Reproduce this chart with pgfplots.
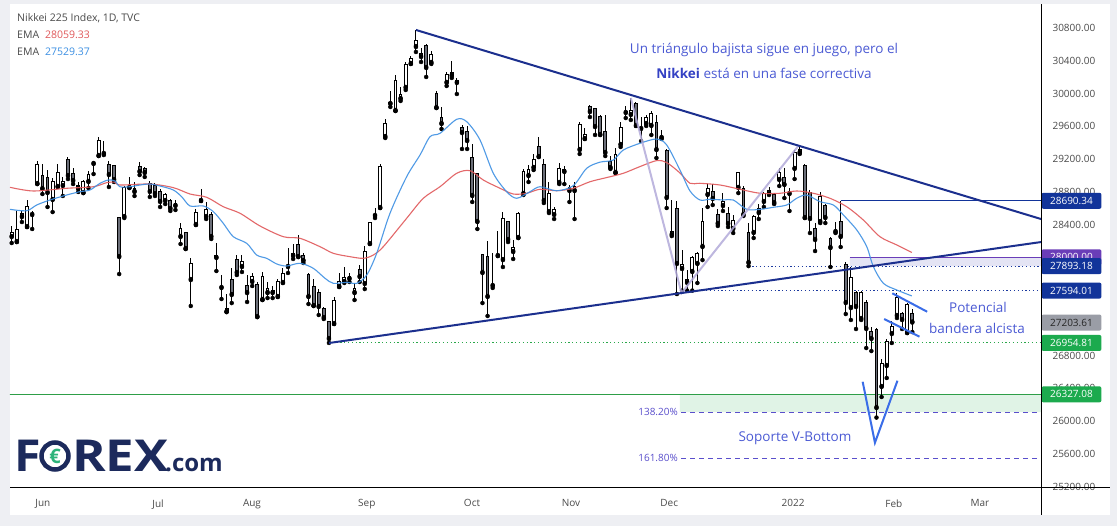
\documentclass[border=0pt]{standalone}
\usepackage{pgfplots}
\pgfplotsset{compat=1.18}
\usepackage{pgfplotstable}
\usetikzlibrary{backgrounds}
\usepackage{fontspec}
\setmainfont{Open Sans}

\definecolor{bordergray}{HTML}{EEEFF3}
\definecolor{navyline}{HTML}{1B2F8E}
\definecolor{emared}{HTML}{E0585A}
\definecolor{emablue}{HTML}{3D90E3}
\definecolor{candlegray}{HTML}{6B6E78}
\definecolor{annot}{HTML}{4B5AD4}
\definecolor{annotdark}{HTML}{3441C4}
\definecolor{flagblue}{HTML}{3A6DE8}
\definecolor{pillnavy}{HTML}{12349A}
\definecolor{pillpurple}{HTML}{6A3DB8}
\definecolor{pillgreen}{HTML}{1CAA4E}
\definecolor{linegreen}{HTML}{2E9E48}
\definecolor{pillgray}{HTML}{9A9DA6}
\definecolor{lav}{HTML}{B3ABDA}
\definecolor{bandpurple}{HTML}{E4E4F4}
\definecolor{bandgreen}{HTML}{E0F3E6}
\definecolor{fibblue}{HTML}{5A4FCC}
\definecolor{axisgray}{HTML}{4A4A4A}
\definecolor{dotnavy}{HTML}{1C3AA0}
\definecolor{dotgreen}{HTML}{2AA84A}
\definecolor{forexnavy}{HTML}{1C2A5C}
\definecolor{forexgreen}{HTML}{2DB37A}

% up (bullish) candles: index open high low close
\pgfplotstableread{
i o h l c
0 28248 28383 28175 28309
1 28187 28566 28187 28346
2 28492 28566 28431 28541
3 28370 28700 28370 28627
5 28895 29176 28895 29140
8 28700 28969 28553 28932
9 28859 29140 28859 29042
10 28871 28981 28749 28932
14 28785 28944 28785 28932
15 28920 29054 28847 29017
17 29237 29469 29237 29433
22 28492 28871 28480 28859
24 28798 28920 28749 28847
30 28688 28785 28651 28773
33 28248 28419 28163 28358
35 27723 27992 27406 27931
36 28395 28590 28395 28553
38 28492 28676 28468 28590
42 27332 27552 27332 27381
45 27882 28028 27821 27955
47 27699 27809 27650 27772
49 27479 27821 27479 27772
50 27564 27699 27503 27626
51 27564 27650 27503 27601
52 27516 27735 27516 27711
53 27687 27870 27687 27809
54 27882 28114 27809 27894
55 28016 28163 27980 28053
63 27186 27516 27186 27479
64 27638 27809 27638 27711
65 27699 27882 27687 27760
66 27735 27809 27699 27772
67 27564 27687 27479 27626
69 27674 28138 27613 28077
70 28163 28431 28163 28431
71 28505 28602 28480 28529
72 28602 29140 28602 29115
73 29469 29689 29457 29640
74 29872 30031 29836 29897
75 29787 30226 29787 30165
76 29933 30080 29909 29994
77 30068 30385 30043 30361
78 30361 30458 30361 30434
79 30568 30776 30507 30654
80 30446 30556 30385 30495
82 30373 30519 30361 30483
85 30129 30263 30092 30238
87 30129 30190 29994 30165
95 28016 28321 28016 28041
96 27967 28553 27882 28480
98 28065 28212 27980 28126
99 28236 28553 28236 28541
100 28773 29079 28761 29054
101 28993 29127 28920 29079
102 29091 29262 29066 29201
105 28553 28920 28541 28785
106 28517 28615 28468 28590
107 28908 29152 28895 29091
110 28810 28920 28468 28871
111 29310 29652 29262 29628
112 29445 29579 29445 29506
118 29030 29335 29030 29262
119 29372 29652 29347 29591
121 29738 29945 29677 29799
124 29628 29738 29604 29713
125 29604 29787 29494 29762
129 28273 28700 28260 28321
131 27858 28089 27594 27919
132 27687 27845 27594 27735
133 27821 28016 27594 28004
134 27919 28065 27687 28053
135 28126 28602 27967 28444
136 28761 28895 28615 28847
139 28627 28785 28566 28688
141 28346 28517 28297 28456
142 28847 29042 28785 29042
145 28297 28517 28236 28505
146 28541 28651 28468 28602
147 28676 28798 28615 28785
148 28773 28859 28761 28822
150 28944 29091 28871 29042
153 29079 29310 28956 29286
154 29274 29359 29262 29323
158 28431 28798 28419 28749
161 28309 28431 28297 28321
164 27381 27882 27235 27760
166 27247 27589 27235 27577
170 26417 26759 26295 26710
171 26673 27003 26527 26978
172 27064 27223 26954 27162
173 27284 27564 27259 27516
175 27076 27442 27076 27430
}\up

% down (bearish) candles: index open high low close
\pgfplotstableread{
i o h l c
4 28529 28566 28346 28517
6 29005 29140 28773 28834
7 28981 29066 28615 28785
11 29201 29225 28956 28993
12 29030 29091 28895 28932
13 28883 28920 28798 28834
16 29152 29176 29017 29140
18 29274 29420 29249 29262
19 29140 29176 28859 29005
20 29127 29127 28920 28944
21 28492 28492 27796 28004
23 28859 28981 28847 28847
25 29115 29164 29005 29042
26 29091 29103 28981 29030
27 28908 28932 28737 28798
28 28883 28908 28749 28773
29 28810 28834 28615 28676
31 28700 28712 28566 28590
32 28663 28700 28578 28627
34 28309 28309 28102 28102
37 28700 28834 28688 28688
39 28529 28553 28224 28248
40 28028 28175 27833 27992
41 27638 27784 27491 27626
43 27735 27870 27442 27540
44 27980 28028 27784 27809
46 27662 27784 27455 27564
48 27674 27699 27271 27271
56 28163 28273 28004 28004
57 28028 28053 27931 27955
58 27796 27809 27430 27516
59 27650 27735 27406 27406
60 27577 27613 27296 27394
61 27381 27394 27247 27259
62 27223 27223 26955 27003
68 27858 27906 27699 27760
81 30593 30605 30202 30312
83 30006 30031 29823 29823
84 29713 29836 29567 29628
86 30263 30397 30190 30214
88 29591 29616 29323 29518
89 29542 29604 29323 29420
90 29225 29384 28676 28749
91 29030 29030 28346 28431
92 28041 28041 27442 27809
93 28016 28199 27284 27516
94 27662 28053 27626 27650
97 28444 28444 28187 28212
103 29359 29469 29225 29225
104 29140 29201 28663 28688
108 29079 29115 28895 29042
109 28859 28883 28676 28810
113 29848 29860 29713 29774
114 29823 29823 29494 29591
115 29726 29738 29494 29494
116 29542 29738 29237 29274
117 29176 29237 29079 29091
120 29787 29848 29701 29762
122 29884 29897 29604 29604
123 29579 29713 29420 29567
126 29652 29738 29213 29310
127 29481 29555 29445 29457
128 29310 29323 28602 28724
130 28602 28688 27552 27919
137 28810 28895 28639 28712
138 28529 28590 28383 28407
140 28541 28615 28370 28407
143 28847 28871 28505 28517
144 28309 28419 27893 27931
149 28773 28785 28651 28663
151 28981 29091 28724 28883
152 28785 28847 28566 28773
155 29127 29140 28480 28480
156 28798 28822 28297 28468
157 28358 28419 28077 28212
159 28639 28651 28419 28480
160 28236 28248 27882 28114
162 28444 28690 28126 28248
163 27919 27943 27308 27442
165 27577 27589 27125 27394
167 27455 27479 26893 27125
168 27100 27149 26856 27003
169 27125 27137 26044 26160
174 27320 27332 27125 27235
176 27320 27369 27088 27204
}\dn

\begin{document}
\begin{tikzpicture}[x=1pt,y=1pt]
\begin{axis}[
  width=1031pt, height=484pt, scale only axis,
  xmin=-0.332, xmax=201.15, ymin=25184, ymax=31093,
  axis line style={draw=none},
  major tick length=0pt,
  clip mode=individual,
  scaled y ticks=false, scaled x ticks=false,
  xtick={6.1,28.6,46.96,69.4,89.96,109.3,128.5,152.7,172.4,189.2},
  xticklabels={Jun,Jul,Aug,Sep,Oct,Nov,Dec,2022,Feb,Mar},
  ytick={25200,25600,26000,26400,26800,27200,27600,28000,28400,28800,29200,29600,30000,30400,30800},
  yticklabel pos=right,
  tick label style={font=\fontsize{10}{12}\selectfont, text=axisgray},
  x tick label style={yshift=-8pt},
  y tick label style={xshift=8pt, anchor=west},
  /pgf/number format/fixed,
  /pgf/number format/fixed zerofill,
  /pgf/number format/precision=2,
  /pgf/number format/1000 sep={},
  /pgf/number format/assume math mode=true,
]
\coordinate (O) at (rel axis cs:0,0);

% ---- zones and levels ----
\addplot[fill=bandpurple, draw=none] coordinates {(163.8,27893.18) (205,27893.18) (205,28000) (163.8,28000) (163.8,27893.18)};
\addplot[fill=bandgreen, draw=none] coordinates {(130.6,26111) (205,26111) (205,26327.08) (130.6,26327.08) (130.6,26111)};
\addplot[pillnavy, line width=1.2pt] coordinates {(162,28690.34) (205,28690.34)};
\addplot[pillpurple, line width=1.2pt] coordinates {(163.8,28000) (205,28000)};
\addplot[dotnavy, line width=1pt, dash pattern=on 1.2pt off 2.6pt] coordinates {(144,27893.18) (205,27893.18)};
\addplot[dotnavy, line width=1pt, dash pattern=on 1.2pt off 2.6pt] coordinates {(132,27594.01) (205,27594.01)};
\addplot[dotgreen, line width=1pt, dash pattern=on 1.2pt off 2.6pt] coordinates {(62,26954.81) (205,26954.81)};
\addplot[linegreen, line width=1pt] coordinates {(-1,26327.08) (205,26327.08)};
\addplot[fibblue, line width=1pt, dash pattern=on 5pt off 4pt] coordinates {(130.8,26111) (205,26111)};
\addplot[fibblue, line width=1pt, dash pattern=on 5pt off 4pt] coordinates {(130.8,25550) (205,25550)};

% ---- candles: wicks ----
\addplot[only marks, mark=none, error bars/.cd, y dir=plus, y explicit,
  error bar style={draw=black, line width=1pt}, error mark=none]
  table[x=i, y=l, y error plus expr=\thisrow{h}-\thisrow{l}] {\up};
\addplot[only marks, mark=none, error bars/.cd, y dir=plus, y explicit,
  error bar style={draw=black, line width=1pt}, error mark=none]
  table[x=i, y=l, y error plus expr=\thisrow{h}-\thisrow{l}] {\dn};
% ---- candles: bodies ----
\addplot[only marks, mark=none, error bars/.cd, y dir=plus, y explicit,
  error bar style={draw=black, line width=3.8pt}, error mark=none]
  table[x=i, y=o, y error plus expr={max(\thisrow{c}-\thisrow{o},12)}] {\up};
\addplot[only marks, mark=none, error bars/.cd, y dir=plus, y explicit,
  error bar style={draw=white, line width=1.8pt}, error mark=none]
  table[x=i, y expr=\thisrow{o}+12, y error plus expr={max(\thisrow{c}-\thisrow{o}-24,0)}] {\up};
\addplot[only marks, mark=none, error bars/.cd, y dir=plus, y explicit,
  error bar style={draw=black, line width=3.8pt}, error mark=none]
  table[x=i, y=c, y error plus expr={max(\thisrow{o}-\thisrow{c},12)}] {\dn};
\addplot[only marks, mark=none, error bars/.cd, y dir=plus, y explicit,
  error bar style={draw=candlegray, line width=1.8pt}, error mark=none]
  table[x=i, y expr=\thisrow{c}+12, y error plus expr={max(\thisrow{o}-\thisrow{c}-24,0)}] {\dn};

% ---- EMAs ----
\addplot[emared, line width=1.1pt, opacity=0.9, smooth] coordinates {
(-0.33,28855) (4.22,28810) (10.75,28843) (15.95,28862) (18.57,28912) (20.19,28917)
(21.16,28883) (27.03,28895) (31.58,28851) (34.85,28773) (38.11,28733) (41.35,28618)
(44.62,28538) (48.52,28383) (53.08,28252) (56.34,28232) (60.25,28130) (62.85,28049)
(66.11,28008) (68.71,27988) (70.67,28028) (72.62,28130) (77.19,28477) (80.44,28721)
(83.70,28862) (86.96,29026) (89.56,29058) (92.16,28944) (95.43,28843) (98.03,28773)
(100.64,28782) (103.24,28831) (106.51,28813) (109.75,28843) (113.01,28923) (116.28,28974)
(119.52,29026) (122.78,29108) (126.05,29181) (128.00,29157) (130.60,29030) (132.56,28904)
(134.51,28904) (138.42,28883) (142.33,28831) (146.24,28782) (150.15,28782) (153.41,28810)
(156.66,28782) (159.91,28721) (163.18,28618) (166.42,28456) (169.68,28252) (172.97,28151)
(175.90,28059)};
\addplot[emablue, line width=1.1pt, opacity=0.9, smooth] coordinates {
(-0.33,28586) (2.93,28569) (4.89,28639) (7.48,28700) (10.75,28761) (13.35,28802)
(15.30,28822) (17.26,28904) (18.88,28944) (20.19,28932) (21.16,28862) (23.12,28862)
(25.07,28883) (27.03,28895) (28.98,28871) (31.58,28822) (33.22,28740) (34.85,28627)
(37.44,28627) (39.40,28558) (41.35,28415) (43.31,28252) (45.93,28171) (47.88,28028)
(49.83,27988) (51.79,27919) (53.74,27894) (56.34,27927) (58.94,27866) (61.23,27744)
(62.85,27683) (65.47,27695) (67.42,27683) (69.38,27784) (71.33,28049) (73.93,28538)
(77.19,28985) (79.79,29249) (81.75,29473) (83.70,29514) (86.96,29685) (88.92,29656)
(91.52,29433) (94.12,29026) (96.74,28801) (98.69,28721) (101.29,28801) (103.24,28862)
(106.51,28813) (109.75,28875) (112.37,29087) (114.97,29162) (117.57,29188) (119.52,29310)
(122.78,29392) (126.05,29445) (128.00,29372) (130.60,29066) (132.56,28810) (134.51,28700)
(136.47,28709) (139.07,28700) (141.02,28700) (143.64,28586) (146.24,28586) (148.84,28611)
(151.46,28639) (153.41,28721) (155.37,28761) (157.97,28679) (160.57,28639) (162.53,28517)
(165.15,28334) (167.10,28130) (168.40,27885) (170.35,27683) (172.97,27601) (175.90,27529)};

% ---- drawings ----
\addplot[lav, line width=2pt, opacity=0.85] coordinates {(121,29945) (130.9,27564) (153.6,29350)};
\addplot[navyline, line width=2pt] coordinates {(79,30776) (203,28433)};
\addplot[navyline, line width=2pt] coordinates {(62,26954) (203,28203)};
\addplot[flagblue, line width=2pt] coordinates {(172.1,27561) (178.9,27336)};
\addplot[flagblue, line width=2pt] coordinates {(170.5,27247) (177.4,27031)};
\addplot[flagblue, line width=2pt] coordinates {(166.3,26481) (168.7,25737) (173.1,26494)};

% ---- price pills ----
\tikzset{pill/.style={anchor=west, rounded corners=2pt, minimum width=60pt, minimum height=16pt,
  inner sep=0pt, text=white, font=\fontsize{10}{12}\selectfont}}
\node[pill, fill=pillnavy] at (axis cs:201.2,28690.34) {28690.34};
\node[pill, fill=pillpurple] at (axis cs:201.2,28000) {28000.00};
\node[pill, fill=pillnavy] at (axis cs:201.2,27893.18) {27893.18};
\node[pill, fill=pillnavy] at (axis cs:201.2,27594.01) {27594.01};
\node[pill, fill=pillgray, text=black!85] at (axis cs:201.2,27203.61) {27203.61};
\node[pill, fill=pillgreen] at (axis cs:201.2,26954.81) {26954.81};
\node[pill, fill=pillgreen] at (axis cs:201.2,26327.08) {26327.08};
\end{axis}

\begin{scope}[shift={(O)}, xshift=-10pt, yshift=-38pt]
\begin{pgfonlayer}{background}
\fill[bordergray] (0,0) rectangle (1117,526);
\fill[white] (10,11) rectangle (1110,522);
\end{pgfonlayer}

% frame lines of the price and time scales
\draw[black, line width=1pt] (1041,11) -- (1041,522);
\draw[black, line width=1pt] (10,38) -- (1110,38);

% legend
\node[anchor=west, text=axisgray, font=\fontsize{10.5}{12}\selectfont, inner sep=0] at (17,508) {Nikkei 225 Index, 1D, TVC};
\node[anchor=west, text=axisgray, font=\fontsize{10.5}{12}\selectfont, inner sep=0] at (17,491) {EMA\hspace{6pt}\textcolor{emared}{28059.33}};
\node[anchor=west, text=axisgray, font=\fontsize{10.5}{12}\selectfont, inner sep=0] at (17,474) {EMA\hspace{6pt}\textcolor{emablue}{27529.37}};

% annotations
\node[text=annot, font=\fontsize{13.5}{16}\selectfont, inner sep=0] at (764,476) {Un triángulo bajista sigue en juego, pero el};
\node[text=annot, font=\fontsize{13.5}{16}\selectfont, inner sep=0] at (764,453) {\textcolor{annotdark}{\bfseries Nikkei} está en una fase correctiva};
\node[text=annot, font=\fontsize{13.5}{16}\selectfont, inner sep=0] at (978,219) {Potencial};
\node[text=annot, font=\fontsize{13.5}{16}\selectfont, inner sep=0] at (977,198) {bandera alcista};
\node[text=annot, font=\fontsize{13.5}{16}\selectfont, inner sep=0] at (795,88) {Soporte V-Bottom};
\node[anchor=east, text=fibblue, font=\fontsize{10}{12}\selectfont, inner sep=0] at (678,114) {138.20\%};
\node[anchor=east, text=fibblue, font=\fontsize{10}{12}\selectfont, inner sep=0] at (678,68) {161.80\%};

% FOREX.com logo
\node[anchor=base west, text=forexnavy, font=\fontsize{44}{44}\selectfont\bfseries, inner sep=0, xscale=1.1] at (14,54) {F};
\draw[forexnavy, line width=4.5pt] (55,70) circle (13.5);
\node[text=forexgreen, font=\fontsize{20}{20}\selectfont\bfseries, inner sep=0] at (55,70) {€};
\node[anchor=base west, text=forexnavy, font=\fontsize{44}{44}\selectfont\bfseries, inner sep=0, xscale=1.16] at (72,54) {REX};
\node[anchor=base west, text=forexnavy, font=\fontsize{24}{24}\selectfont\bfseries, inner sep=0] at (165,54) {.com};

\pgfresetboundingbox
\path[use as bounding box] (0,0) rectangle (1117,526);
\end{scope}
\end{tikzpicture}
\end{document}
